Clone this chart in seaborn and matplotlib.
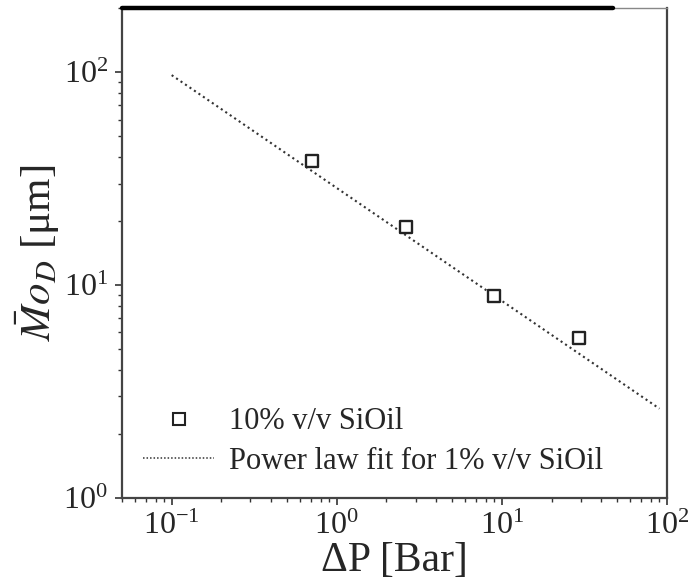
import matplotlib
matplotlib.use("Agg")
import matplotlib.pyplot as plt
import seaborn as sns
import pandas as pd
from matplotlib.lines import Line2D
from matplotlib.ticker import LogLocator, NullFormatter

# data
pressure_bar = [0.705, 2.62, 8.95, 29.3]
mode_um = [38.5, 18.8, 8.87, 5.62]
fit_x = [0.1, 90.0]
fit_y = [97.0, 2.63]
series_label = "10% v/v SiOil"
fit_label = "Power law fit for 1% v/v SiOil"
x_title = "ΔP [Bar]"
y_title = r"$\bar{M}o_D$ [μm]"

sns.set_style("ticks")
plt.rcParams["font.family"] = ["Liberation Serif", "DejaVu Serif"]
plt.rcParams["mathtext.fontset"] = "stix"

fig = plt.figure(figsize=(6.93, 5.88), dpi=100)
ax = fig.add_axes([0.176, 0.153, 0.7865, 0.833])

pts = pd.DataFrame({"x": pressure_bar, "y": mode_um})
fit = pd.DataFrame({"x": fit_x, "y": fit_y})

sns.lineplot(data=fit, x="x", y="y", ax=ax, color="#333333", linestyle=(0, (1, 1.6)),
             linewidth=1.5, legend=False)
sns.scatterplot(data=pts, x="x", y="y", ax=ax, marker="s", s=75,
                facecolor="white", edgecolor="#222222", linewidth=1.7, legend=False, zorder=3)

ax.set_xscale("log")
ax.set_yscale("log")
ax.set_xlim(0.05, 100)
ax.set_ylim(1, 200)

ax.xaxis.set_major_locator(LogLocator(base=10, numticks=10))
ax.xaxis.set_minor_locator(LogLocator(base=10, subs=range(2, 10), numticks=20))
ax.yaxis.set_major_locator(LogLocator(base=10, numticks=10))
ax.yaxis.set_minor_locator(LogLocator(base=10, subs=range(2, 10), numticks=20))
ax.xaxis.set_minor_formatter(NullFormatter())
ax.yaxis.set_minor_formatter(NullFormatter())

ax.tick_params(axis="both", which="major", direction="out", length=5, width=1.2,
               color="#333333", labelsize=23, pad=5, top=False, right=False)
ax.tick_params(axis="both", which="minor", direction="out", length=3, width=1.0,
               color="#333333", top=False, right=False)

for side in ["left", "bottom", "right"]:
    ax.spines[side].set_color("#444444")
    ax.spines[side].set_linewidth(1.6)
ax.spines["top"].set_color("#888888")
ax.spines["top"].set_linewidth(1.0)
ax.axhline(200, xmin=0, xmax=0.9, color="black", linewidth=3.2, clip_on=False, zorder=5)

ax.set_xlabel(x_title, fontsize=30, labelpad=0)
ax.set_ylabel(y_title, fontsize=31, labelpad=1)

handles = [
    Line2D([], [], marker="s", linestyle="none", markersize=8.5, markerfacecolor="white",
           markeredgecolor="#222222", markeredgewidth=1.5),
    Line2D([], [], color="#333333", linestyle=(0, (1, 1.3)), linewidth=1.1),
]
ax.legend(handles, [series_label, fit_label], loc="lower left", bbox_to_anchor=(0.017, 0.02),
          frameon=False, fontsize=22, handlelength=2.3, handletextpad=0.5, labelspacing=0.35,
          borderaxespad=0)

fig.savefig("out.png", dpi=100)
